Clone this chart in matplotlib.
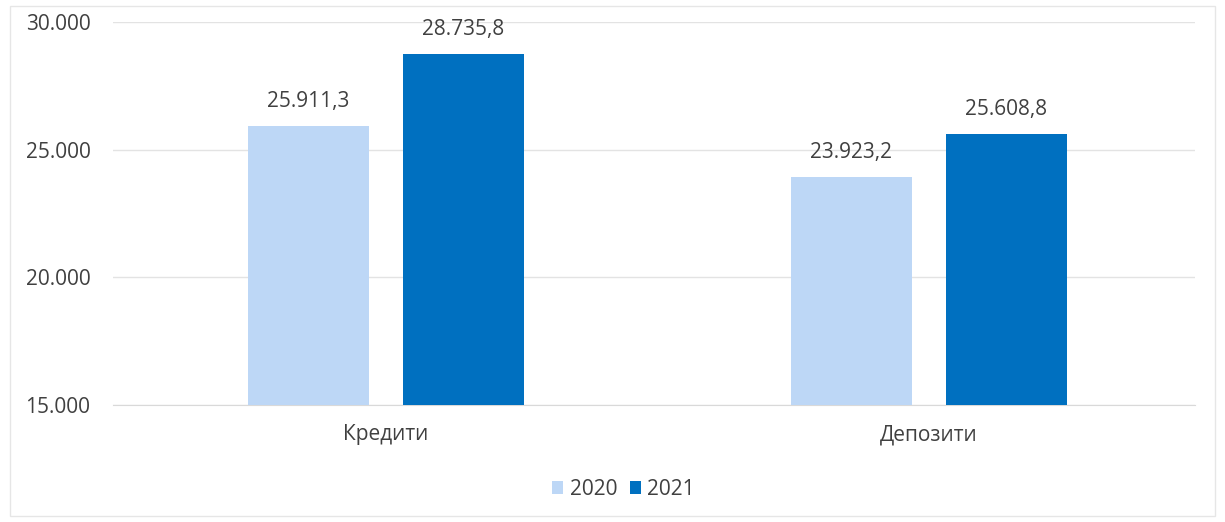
import matplotlib
matplotlib.use("Agg")
import matplotlib.pyplot as plt
import numpy as np
from matplotlib.patches import Rectangle

categories = ["Кредити", "Депозити"]
series_names = ["2020", "2021"]
values_2020 = [25911.3, 23923.2]
values_2021 = [28735.8, 25608.8]
y_ticks = [15000, 20000, 25000, 30000]

colors = ["#BDD7F6", "#0070C0"]
text_color = "#404040"
plt.rcParams["font.family"] = ["Open Sans", "DejaVu Sans"]
fs = 15


def fmt_thousands(v, decimals=0):
    s = f"{v:,.{decimals}f}"
    return s.replace(",", "X").replace(".", ",").replace("X", ".")


fig = plt.figure(figsize=(12.25, 5.22), dpi=100)
ax = fig.add_axes([0.092, 0.2241, 0.8835, 0.734])

x = np.arange(len(categories))
width = 0.223
offset = 0.1427
for i, (vals, name) in enumerate(zip([values_2020, values_2021], series_names)):
    pos = x + (i - 0.5) * 2 * offset
    bars = ax.bar(pos, vals, width=width, color=colors[i], label=name, zorder=3)
    for b, v in zip(bars, vals):
        ax.annotate(fmt_thousands(v, 1), (b.get_x() + b.get_width() / 2, v),
                    xytext=(0, 10), textcoords="offset points",
                    ha="center", va="bottom", fontsize=fs, color=text_color)

ax.set_ylim(15000, 30000)
ax.set_xlim(-0.503, 1.49)
ax.set_yticks(y_ticks)
ax.set_yticklabels([fmt_thousands(t) for t in y_ticks], fontsize=fs, color=text_color)
ax.set_xticks(x)
ax.set_xticklabels(categories, fontsize=fs, color=text_color)
ax.tick_params(axis="both", length=0)
ax.tick_params(axis="y", pad=16)
ax.tick_params(axis="x", pad=14)
ax.grid(axis="y", color="#E3E3E3", linewidth=1.0, zorder=0)
for s in ["top", "right", "left"]:
    ax.spines[s].set_visible(False)
ax.spines["bottom"].set_color("#D9D9D9")

leg = fig.legend(loc="center", bbox_to_anchor=(0.509, 0.062), ncol=2, frameon=False,
                 fontsize=fs, handlelength=0.55, handleheight=0.55,
                 handletextpad=0.3, columnspacing=0.6)
for t in leg.get_texts():
    t.set_color(text_color)

fig.patches.append(Rectangle((0.008, 0.012), 0.984, 0.976, transform=fig.transFigure,
                             fill=False, edgecolor="#E6E6E6", linewidth=1.0))

fig.savefig("out.png", dpi=100, facecolor="white")
